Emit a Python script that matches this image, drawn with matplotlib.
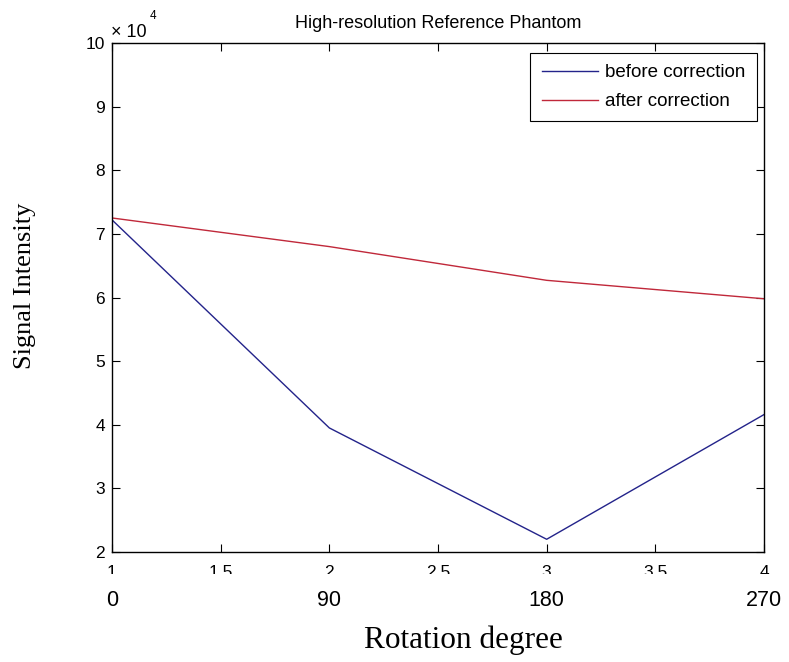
import matplotlib
matplotlib.use("Agg")
import matplotlib.pyplot as plt
from matplotlib.patches import Rectangle

# Data
x_index = [1, 2, 3, 4]
before_correction = [7.22e4, 3.95e4, 2.20e4, 4.16e4]
after_correction = [7.25e4, 6.80e4, 6.27e4, 5.98e4]
degree_labels = ["0", "90", "180", "270"]
x_ticks = [1, 1.5, 2, 2.5, 3, 3.5, 4]
x_tick_labels = ["1", "1.5", "2", "2.5", "3", "3.5", "4"]
y_ticks = [2, 3, 4, 5, 6, 7, 8, 9, 10]

W, H = 789, 662
fig = plt.figure(figsize=(W / 100, H / 100), dpi=100)
L, R, T, B = 112, 764, 43, 552
ax = fig.add_axes([L / W, 1 - B / H, (R - L) / W, (B - T) / H])

sans = "Liberation Sans"
serif = "Liberation Serif"

ax.plot(x_index, [v / 1e4 for v in before_correction], color="#23238a", lw=1.0,
        label="before correction")
ax.plot(x_index, [v / 1e4 for v in after_correction], color="#c0283a", lw=1.0,
        label="after correction")

ax.set_xlim(1, 4)
ax.set_ylim(2, 10)
ax.set_xticks(x_ticks)
ax.set_xticklabels(x_tick_labels, fontfamily=sans, fontsize=12.5)
ax.set_yticks(y_ticks)
ax.set_yticklabels([str(t) for t in y_ticks], fontfamily=sans, fontsize=12.5)
ax.tick_params(direction="in", length=6, width=0.8, top=True, right=True,
               colors="black", pad=5)
ax.tick_params(axis="x", pad=9.5)
for s in ax.spines.values():
    s.set_linewidth(1.0)

ax.set_title("High-resolution Reference Phantom", fontfamily=sans, fontsize=13, pad=11)

fig.text(111 / W, 1 - 37 / H, "× 10", fontfamily=sans, fontsize=13, ha="left", va="baseline")
fig.text(150 / W, 1 - 19 / H, "4", fontfamily=sans, fontsize=8.5, ha="left", va="baseline")

leg = ax.legend(loc="upper right", bbox_to_anchor=(757 / W, 1 - 53 / H),
                bbox_transform=fig.transFigure, prop={"family": sans, "size": 13.5},
                frameon=True, fancybox=False, edgecolor="black", framealpha=1,
                handlelength=3.0, borderpad=0.6, labelspacing=0.62, handletextpad=0.4,
                borderaxespad=0)
leg.get_frame().set_linewidth(0.8)

# Clip the bottom tick labels as in the reference
fig.patches.append(Rectangle((0, 0), 1, 1 - 574 / H, transform=fig.transFigure,
                             facecolor="white", edgecolor="none", zorder=5))

for xi, lab in zip(x_index, degree_labels):
    xp = ax.transData.transform((xi, 2))[0] / W
    fig.text(xp, 1 - 601 / H, lab, fontfamily=sans, fontsize=15.5, ha="center",
             va="center", zorder=10)

fig.text(463 / W, 1 - 640 / H, "Rotation degree", fontfamily=serif, fontsize=22.5,
         ha="center", va="center", zorder=10)
fig.text(25 / W, 1 - 286 / H, "Signal Intensity", fontfamily=serif, fontsize=19,
         ha="center", va="center", rotation=90, zorder=10)

fig.savefig("out.png", dpi=100, facecolor="white")
